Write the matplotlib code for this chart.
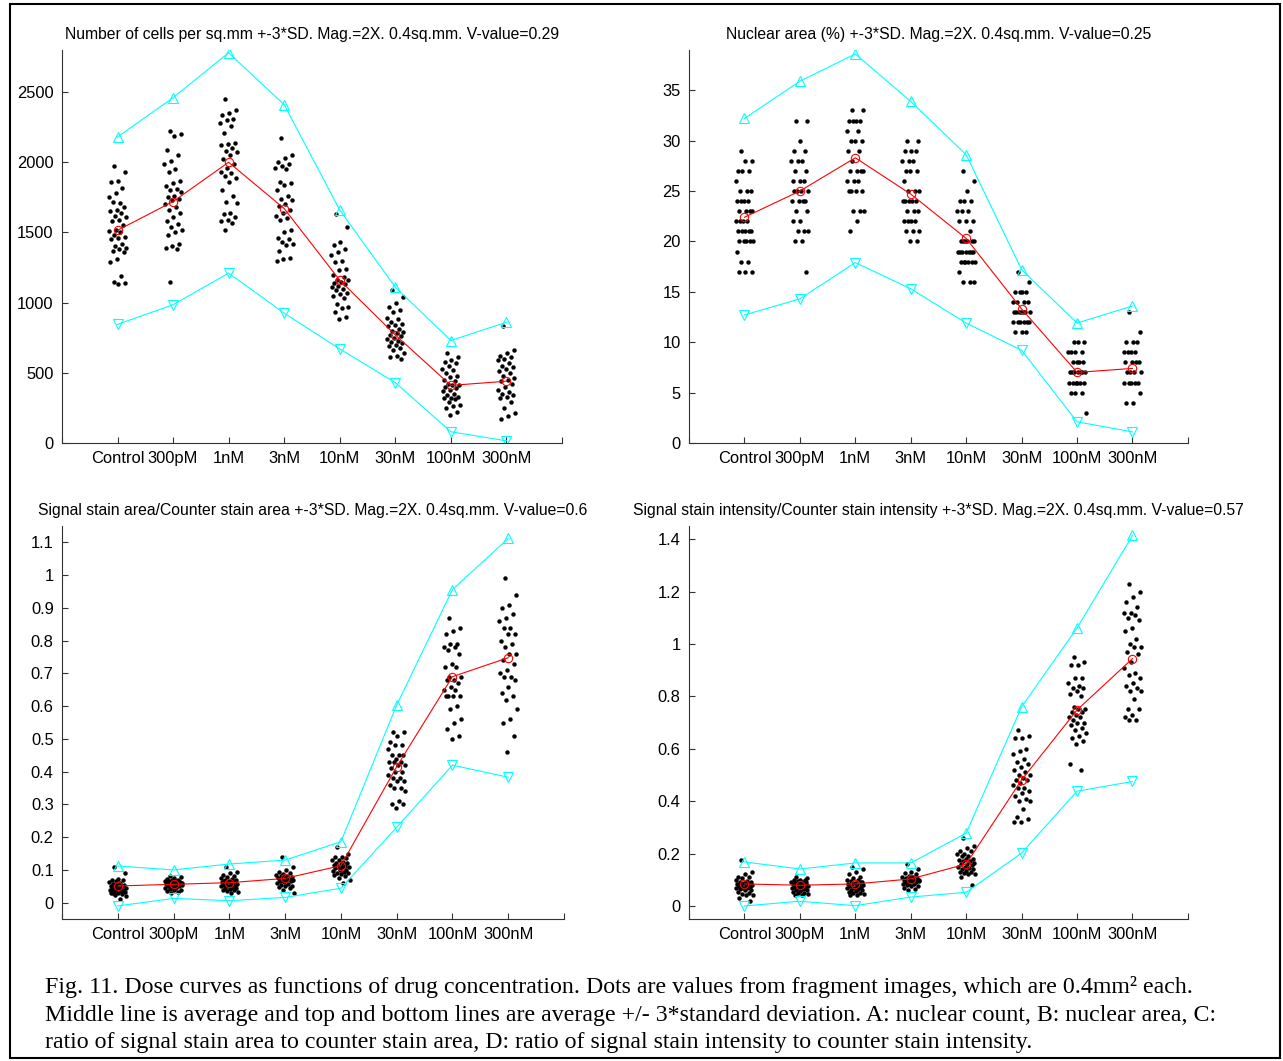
import matplotlib
matplotlib.use("Agg")
import matplotlib.pyplot as plt
from matplotlib.patches import Rectangle

plt.rcParams['font.family'] = ['Liberation Sans', 'DejaVu Sans']

doses = ['Control', '300pM', '1nM', '3nM', '10nM', '30nM', '100nM', '300nM']

# A: number of cells per sq.mm
cells_dots = [
    [1970, 1930, 1870, 1860, 1820, 1780, 1750, 1710, 1720, 1680, 1660, 1650, 1640, 1620, 1610, 1590, 1580, 1550, 1520,
     1510, 1500, 1480, 1470, 1460, 1450, 1420, 1400, 1390, 1380, 1370, 1360, 1310, 1290, 1190, 1150, 1140, 1130],
    [2220, 2200, 2190, 2090, 2050, 2010, 1990, 1950, 1930, 1870, 1850, 1830, 1810, 1800, 1790, 1760, 1750, 1740, 1730,
     1700, 1680, 1660, 1640, 1610, 1580, 1560, 1540, 1520, 1500, 1480, 1420, 1400, 1390, 1380, 1150],
    [2450, 2370, 2350, 2340, 2310, 2300, 2280, 2260, 2210, 2140, 2130, 2120, 2100, 2080, 2070, 2050, 2020, 1990, 1960,
     1930, 1920, 1900, 1890, 1860, 1800, 1760, 1720, 1710, 1640, 1630, 1610, 1590, 1580, 1570, 1520],
    [2170, 2050, 2030, 2000, 1990, 1970, 1960, 1950, 1860, 1850, 1840, 1800, 1760, 1740, 1730, 1700, 1690, 1660, 1640,
     1620, 1600, 1590, 1520, 1500, 1460, 1450, 1430, 1420, 1410, 1370, 1320, 1310, 1300],
    [1630, 1540, 1430, 1410, 1380, 1360, 1340, 1300, 1290, 1240, 1230, 1200, 1180, 1160, 1160, 1150, 1140, 1130, 1120,
     1110, 1100, 1090, 1070, 1060, 1050, 1030, 990, 970, 960, 930, 900, 880],
    [1090, 1040, 1000, 970, 950, 930, 890, 880, 860, 850, 840, 830, 810, 800, 790, 780, 770, 760, 750, 740, 730, 720,
     710, 700, 690, 680, 660, 640, 620, 610, 600],
    [640, 610, 590, 580, 570, 550, 530, 520, 500, 480, 470, 450, 440, 420, 410, 410, 400, 390, 380, 370, 350, 340, 330,
     320, 320, 310, 290, 270, 260, 250, 220, 200],
    [830, 660, 640, 620, 610, 600, 590, 570, 550, 540, 530, 510, 500, 480, 460, 450, 440, 420, 400, 380, 360, 350, 340,
     330, 320, 290, 250, 210, 190, 170],
]
cells_mean = [1515, 1720, 2000, 1670, 1160, 770, 410, 440]
cells_upper = [2180, 2460, 2780, 2410, 1660, 1110, 730, 860]
cells_lower = [845, 985, 1210, 925, 670, 430, 80, 15]

# B: nuclear area (%)
area_dots = [
    [29, 28, 28, 27, 27, 27, 26, 25, 25, 25, 24, 24, 24, 24, 23, 23, 23, 23, 22, 22, 22, 22, 21, 21, 21, 21, 21,
     20, 20, 20, 20, 20, 19, 18, 18, 17, 17, 17],
    [32, 32, 30, 29, 29, 28, 28, 28, 27, 27, 26, 26, 26, 25, 25, 25, 25, 24, 24, 24, 24, 23, 23, 22, 22, 21, 21, 21,
     20, 20, 17],
    [33, 33, 32, 32, 32, 32, 31, 31, 30, 30, 30, 29, 29, 28, 27, 27, 27, 27, 26, 26, 26, 25, 25, 25, 25, 23, 23, 23,
     22, 21],
    [30, 30, 29, 29, 29, 28, 28, 28, 27, 27, 27, 26, 25, 25, 25, 24, 24, 24, 24, 24, 23, 23, 23, 22, 22, 22, 22, 21,
     21, 21, 20, 20],
    [27, 26, 25, 24, 24, 24, 23, 23, 23, 22, 22, 22, 21, 20, 20, 20, 20, 20, 20, 19, 19, 19, 19, 19, 19, 19, 18, 18,
     18, 18, 18, 18, 17, 16, 16, 16],
    [17, 16, 15, 15, 15, 15, 14, 14, 14, 14, 13, 13, 13, 13, 13, 13, 13, 12, 12, 12, 12, 12, 12, 11, 11, 11],
    [10, 10, 10, 9, 9, 9, 9, 8, 8, 8, 8, 7, 7, 7, 7, 7, 7, 7, 6, 6, 6, 6, 6, 6, 5, 5, 5, 3],
    [13, 11, 10, 10, 10, 9, 9, 9, 9, 8, 8, 8, 8, 7, 7, 7, 7, 6, 6, 6, 6, 6, 5, 4, 4],
]
area_mean = [22.4, 25.0, 28.3, 24.7, 20.3, 13.3, 7.0, 7.4]
area_upper = [32.2, 35.9, 38.6, 33.9, 28.6, 17.2, 11.9, 13.6]
area_lower = [12.7, 14.3, 17.9, 15.3, 11.9, 9.2, 2.1, 1.1]

# C: signal stain area / counter stain area
sarea_dots = [
    [0.11, 0.09, 0.072, 0.07, 0.068, 0.065, 0.062, 0.06, 0.058, 0.055, 0.053, 0.05, 0.05, 0.048, 0.046, 0.045, 0.043,
     0.04, 0.04, 0.038, 0.036, 0.034, 0.032, 0.03, 0.028, 0.025, 0.022, 0.02, 0.01, 0.03],
    [0.08, 0.078, 0.075, 0.072, 0.07, 0.068, 0.066, 0.065, 0.063, 0.062, 0.06, 0.058, 0.057, 0.055, 0.054, 0.052, 0.05,
     0.05, 0.048, 0.046, 0.045, 0.043, 0.04, 0.038, 0.035, 0.032, 0.03, 0.06, 0.055, 0.065],
    [0.11, 0.095, 0.09, 0.085, 0.08, 0.078, 0.075, 0.072, 0.07, 0.068, 0.066, 0.064, 0.062, 0.06, 0.058, 0.056, 0.055,
     0.053, 0.05, 0.05, 0.048, 0.046, 0.044, 0.042, 0.04, 0.038, 0.035, 0.032, 0.03, 0.065],
    [0.14, 0.11, 0.1, 0.095, 0.09, 0.088, 0.085, 0.082, 0.08, 0.078, 0.075, 0.074, 0.072, 0.07, 0.07, 0.068, 0.066,
     0.065, 0.063, 0.06, 0.058, 0.055, 0.052, 0.05, 0.048, 0.045, 0.04, 0.03, 0.075, 0.07],
    [0.17, 0.15, 0.14, 0.14, 0.135, 0.13, 0.13, 0.125, 0.12, 0.12, 0.118, 0.115, 0.112, 0.11, 0.11, 0.108, 0.105, 0.1,
     0.1, 0.098, 0.095, 0.092, 0.09, 0.088, 0.085, 0.08, 0.075, 0.07, 0.06, 0.115],
    [0.52, 0.52, 0.51, 0.49, 0.48, 0.48, 0.47, 0.45, 0.45, 0.45, 0.44, 0.43, 0.43, 0.43, 0.42, 0.42, 0.41, 0.4, 0.4,
     0.39, 0.38, 0.38, 0.37, 0.37, 0.36, 0.35, 0.35, 0.34, 0.31, 0.3, 0.3, 0.29],
    [0.87, 0.84, 0.83, 0.82, 0.79, 0.79, 0.78, 0.78, 0.77, 0.76, 0.73, 0.72, 0.72, 0.69, 0.69, 0.68, 0.68, 0.67, 0.66,
     0.65, 0.65, 0.63, 0.63, 0.63, 0.63, 0.6, 0.59, 0.56, 0.55, 0.53, 0.51, 0.5],
    [0.99, 0.94, 0.91, 0.9, 0.88, 0.87, 0.86, 0.84, 0.84, 0.82, 0.82, 0.8, 0.79, 0.78, 0.76, 0.76, 0.74, 0.73, 0.71,
     0.7, 0.69, 0.69, 0.68, 0.66, 0.64, 0.63, 0.62, 0.59, 0.56, 0.55, 0.51, 0.46],
]
sarea_mean = [0.051, 0.056, 0.061, 0.074, 0.113, 0.415, 0.69, 0.748]
sarea_upper = [0.112, 0.10, 0.118, 0.13, 0.186, 0.603, 0.956, 1.112]
sarea_lower = [-0.01, 0.013, 0.006, 0.016, 0.044, 0.23, 0.42, 0.383]

# D: signal stain intensity / counter stain intensity
sint_dots = [
    [0.175, 0.13, 0.12, 0.11, 0.11, 0.105, 0.1, 0.095, 0.09, 0.09, 0.088, 0.085, 0.082, 0.08, 0.08, 0.078, 0.075, 0.072,
     0.07, 0.07, 0.068, 0.065, 0.062, 0.06, 0.055, 0.05, 0.045, 0.04, 0.04, 0.03, 0.02],
    [0.11, 0.105, 0.1, 0.1, 0.098, 0.095, 0.092, 0.09, 0.088, 0.085, 0.085, 0.082, 0.08, 0.08, 0.078, 0.075, 0.072, 0.07,
     0.07, 0.068, 0.065, 0.062, 0.06, 0.058, 0.055, 0.05, 0.048, 0.045, 0.04, 0.04, 0.09, 0.075],
    [0.15, 0.14, 0.13, 0.12, 0.11, 0.105, 0.1, 0.1, 0.095, 0.09, 0.088, 0.085, 0.085, 0.082, 0.08, 0.078, 0.075, 0.072,
     0.07, 0.068, 0.065, 0.062, 0.06, 0.058, 0.055, 0.05, 0.048, 0.045, 0.04, 0.04, 0.09],
    [0.16, 0.14, 0.13, 0.125, 0.12, 0.115, 0.112, 0.11, 0.108, 0.105, 0.102, 0.1, 0.1, 0.098, 0.095, 0.095, 0.092, 0.09,
     0.088, 0.085, 0.082, 0.08, 0.078, 0.075, 0.07, 0.065, 0.06, 0.1, 0.09],
    [0.26, 0.23, 0.22, 0.21, 0.21, 0.2, 0.2, 0.19, 0.19, 0.18, 0.18, 0.175, 0.17, 0.17, 0.165, 0.16, 0.16, 0.155, 0.15,
     0.15, 0.145, 0.14, 0.14, 0.135, 0.13, 0.13, 0.125, 0.12, 0.12, 0.11, 0.08],
    [0.67, 0.65, 0.64, 0.64, 0.6, 0.59, 0.58, 0.56, 0.55, 0.54, 0.53, 0.52, 0.51, 0.5, 0.5, 0.49, 0.48, 0.48, 0.47,
     0.46, 0.45, 0.45, 0.44, 0.43, 0.42, 0.41, 0.4, 0.4, 0.37, 0.34, 0.33, 0.32, 0.32],
    [0.95, 0.93, 0.92, 0.92, 0.87, 0.87, 0.85, 0.84, 0.83, 0.83, 0.82, 0.81, 0.8, 0.76, 0.75, 0.75, 0.74, 0.74, 0.73,
     0.72, 0.72, 0.71, 0.7, 0.7, 0.69, 0.68, 0.67, 0.66, 0.65, 0.64, 0.63, 0.62, 0.54, 0.52],
    [1.23, 1.2, 1.18, 1.16, 1.14, 1.12, 1.12, 1.11, 1.1, 1.09, 1.06, 1.05, 1.02, 1.0, 0.99, 0.99, 0.97, 0.96, 0.93,
     0.91, 0.89, 0.88, 0.87, 0.85, 0.84, 0.83, 0.82, 0.82, 0.79, 0.75, 0.75, 0.73, 0.72, 0.71, 0.71],
]
sint_mean = [0.084, 0.079, 0.084, 0.103, 0.16, 0.481, 0.748, 0.944]
sint_upper = [0.168, 0.141, 0.164, 0.164, 0.278, 0.76, 1.061, 1.414]
sint_lower = [0.0, 0.018, 0.001, 0.034, 0.052, 0.202, 0.438, 0.475]

titles = [
    'Number of cells per sq.mm +-3*SD. Mag.=2X. 0.4sq.mm. V-value=0.29',
    'Nuclear area (%) +-3*SD. Mag.=2X. 0.4sq.mm. V-value=0.25',
    'Signal stain area/Counter stain area +-3*SD. Mag.=2X. 0.4sq.mm. V-value=0.6',
    'Signal stain intensity/Counter stain intensity +-3*SD. Mag.=2X. 0.4sq.mm. V-value=0.57',
]

caption = ('Fig. 11. Dose curves as functions of drug concentration. Dots are values from fragment images, '
           'which are 0.4mm\u00b2 each.\n'
           'Middle line is average and top and bottom lines are average +/- 3*standard deviation. '
           'A: nuclear count, B: nuclear area, C:\n'
           'ratio of signal stain area to counter stain area, D: ratio of signal stain intensity to counter '
           'stain intensity.')


def jitter(n, width=0.16):
    # spread the dots sideways in a fixed pattern
    return [((k * 0.6180339 + 0.3) % 1.0 - 0.5) * 2 * width for k in range(n)]


def draw_panel(ax, dots, mean, upper, lower, title, ylim, yticks):
    xs = list(range(1, len(doses) + 1))
    for i, vals in enumerate(dots):
        off = jitter(len(vals))
        ax.plot([xs[i] + o for o in off], vals, 'o', color='k', markersize=3.2, markeredgewidth=0)
    ax.plot(xs, upper, '-^', color='#00ffff', lw=0.8, markersize=7, markerfacecolor='none', markeredgewidth=0.8)
    ax.plot(xs, lower, '-v', color='#00ffff', lw=0.8, markersize=7, markerfacecolor='none', markeredgewidth=0.8)
    ax.plot(xs, mean, '-o', color='r', lw=0.8, markersize=6, markerfacecolor='none', markeredgewidth=0.8)
    ax.set_xlim(0, 9)
    ax.set_ylim(*ylim)
    ax.set_xticks([0] + xs + [9])
    ax.set_xticklabels([''] + doses + [''])
    ax.set_yticks(yticks)
    ax.set_yticklabels(['%g' % t for t in yticks])
    ax.spines['top'].set_visible(False)
    ax.spines['right'].set_visible(False)
    for s in ['left', 'bottom']:
        ax.spines[s].set_linewidth(0.8)
        ax.spines[s].set_color('#333333')
    ax.tick_params(direction='in', length=4, width=0.8, color='#333333', labelsize=11.9, pad=6)
    ax.set_title(title, fontsize=11.3, pad=8)


fig = plt.figure(figsize=(12.83, 10.61), dpi=100)

axA = fig.add_axes([0.0483, 0.5825, 0.3897, 0.3704])
axB = fig.add_axes([0.5370, 0.5825, 0.3889, 0.3704])
axC = fig.add_axes([0.0483, 0.1338, 0.3913, 0.3704])
axD = fig.add_axes([0.5370, 0.1338, 0.3889, 0.3704])

draw_panel(axA, cells_dots, cells_mean, cells_upper, cells_lower, titles[0],
           (0, 2800), [0, 500, 1000, 1500, 2000, 2500])
draw_panel(axB, area_dots, area_mean, area_upper, area_lower, titles[1],
           (0, 39), [0, 5, 10, 15, 20, 25, 30, 35])
draw_panel(axC, sarea_dots, sarea_mean, sarea_upper, sarea_lower, titles[2],
           (-0.05, 1.15), [0, 0.1, 0.2, 0.3, 0.4, 0.5, 0.6, 0.7, 0.8, 0.9, 1, 1.1])
draw_panel(axD, sint_dots, sint_mean, sint_upper, sint_lower, titles[3],
           (-0.05, 1.45), [0, 0.2, 0.4, 0.6, 0.8, 1, 1.2, 1.4])

fig.text(45 / 1283, 1 - 976 / 1061, caption, family='Liberation Serif', fontsize=17.2,
         va='top', ha='left', linespacing=1.42)

# frame round the whole figure
fig.patches.append(Rectangle((10 / 1283, 3 / 1061), 1270 / 1283, 1054 / 1061, transform=fig.transFigure,
                             fill=False, edgecolor='k', linewidth=1.5))

fig.savefig('out.png', dpi=100)
